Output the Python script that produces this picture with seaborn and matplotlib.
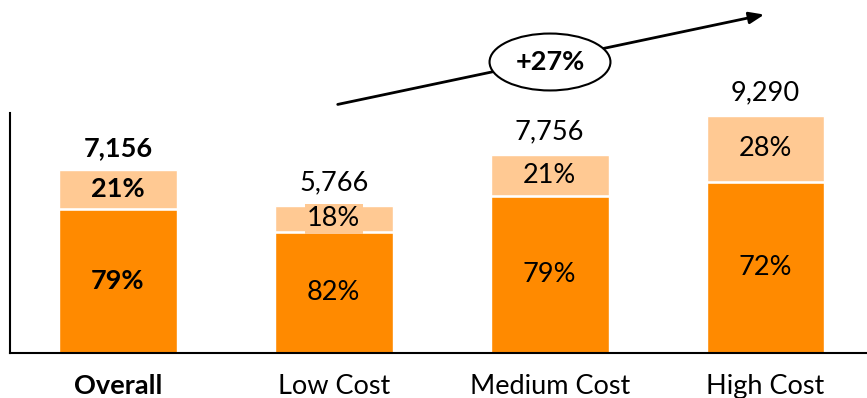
import pandas as pd
import matplotlib.pyplot as plt
import seaborn as sns

categories = ['Overall', 'Low Cost', 'Medium Cost', 'High Cost']
totals = [7156, 5766, 7756, 9290]
low_share = [79, 82, 79, 72]
high_share = [21, 18, 21, 28]

dark = '#FF8A00'
light = '#FFC993'

df = pd.DataFrame({'cat': categories, 'total': totals,
                   'low': [t * s / 100 for t, s in zip(totals, low_share)]})

sns.set_style('white')
plt.rcParams['font.family'] = ['Lato', 'DejaVu Sans']
plt.rcParams['text.color'] = 'black'
plt.rcParams['xtick.color'] = 'black'

fig = plt.figure(figsize=(8.67, 3.98), dpi=100)
ax = fig.add_axes([10 / 867, 45 / 398, 857 / 867, 240 / 398])

# stacked look: full total in light, bottom part in dark over it
sns.barplot(data=df, x='cat', y='total', color=light, width=0.546,
            saturation=1, ax=ax)
sns.barplot(data=df, x='cat', y='low', color=dark, width=0.546,
            saturation=1, ax=ax)
ax.hlines(df['low'], [i - 0.273 for i in range(4)], [i + 0.273 for i in range(4)],
          colors='white', linewidth=1.8)

fs = 19.5
for i, row in df.iterrows():
    w = 'bold' if i == 0 else 'normal'
    ax.text(i, row['low'] / 2, f'{low_share[i]}%', ha='center', va='center',
            fontsize=fs, fontweight=w)
    mid = (row['low'] + row['total']) / 2
    bb = dict(boxstyle='square,pad=0.08', fc=light, ec='none') if i == 1 else None
    ax.text(i, mid, f'{high_share[i]}%', ha='center', va='center',
            fontsize=fs, fontweight=w, bbox=bb)
    ax.text(i, row['total'] + 400, f'{row["total"]:,}', ha='center', va='bottom',
            fontsize=fs, fontweight=w)

ax.set_ylim(0, 9390)
ax.set_xlim(-0.5, 3.47)
ax.set_xlabel('')
ax.set_ylabel('')
ax.set_yticks([])
ax.tick_params(axis='x', length=0, labelsize=fs, pad=15, labelcolor='black')
for lbl in ax.get_xticklabels():
    if lbl.get_text() == 'Overall':
        lbl.set_fontweight('bold')
sns.despine(ax=ax, top=True, right=True)
for s in ['left', 'bottom']:
    ax.spines[s].set_color('black')
    ax.spines[s].set_linewidth(1.5)

# growth arrow
ax.annotate('', xy=(767 / 867, (398 - 14) / 398), xytext=(335 / 867, (398 - 105) / 398),
            xycoords='figure fraction', textcoords='figure fraction',
            arrowprops=dict(arrowstyle='-|>,head_length=0.9,head_width=0.35',
                            color='black', lw=2))
fig.text(550 / 867, (398 - 62) / 398, '+27%', ha='center', va='center',
         fontsize=fs, fontweight='bold',
         bbox=dict(boxstyle='ellipse,pad=0.3', fc='white', ec='black', lw=1.5))

plt.savefig('out.png', dpi=100)
